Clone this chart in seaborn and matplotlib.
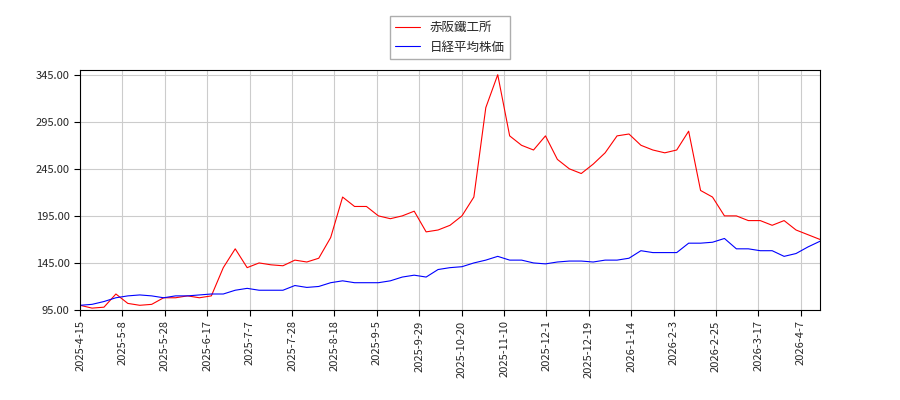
import matplotlib
matplotlib.use("Agg")
import matplotlib.pyplot as plt
import seaborn as sns
import numpy as np
import pandas as pd

tick_labels = ["2025-4-15","2025-5-8","2025-5-28","2025-6-17","2025-7-7","2025-7-28","2025-8-18",
               "2025-9-5","2025-9-29","2025-10-20","2025-11-10","2025-12-1","2025-12-19","2026-1-14",
               "2026-2-3","2026-2-25","2026-3-17","2026-4-7"]
akasaka = [100,97,98,112,102,100,101,108,108,110,108,110,140,160,140,145,143,142,148,146,150,172,
           215,205,205,195,192,195,200,178,180,185,195,215,310,345,280,270,265,280,255,245,240,250,
           262,280,282,270,265,262,265,285,222,215,195,195,190,190,185,190,180,175,170]
nikkei = [100,101,104,108,110,111,110,108,110,110,111,112,112,116,118,116,116,116,121,119,120,124,
          126,124,124,124,126,130,132,130,138,140,141,145,148,152,148,148,145,144,146,147,147,146,
          148,148,150,158,156,156,156,166,166,167,171,160,160,158,158,152,155,162,168]

step = 4
df = pd.DataFrame({"x": np.arange(len(akasaka)) * step, "赤阪鐵工所": akasaka, "日経平均株価": nikkei})
long = df.melt("x", var_name="series", value_name="v")

sns.set_style("white")
plt.rcParams['font.family'] = ['Noto Sans CJK JP', 'DejaVu Sans']
fig = plt.figure(figsize=(9, 4), dpi=100)
ax = fig.add_axes([0.089, 0.225, 0.822, 0.6])
sns.lineplot(data=long, x="x", y="v", hue="series", palette={"赤阪鐵工所": "red", "日経平均株価": "blue"},
             linewidth=0.8, ax=ax)
xmax = (len(akasaka) - 1) * step
ax.set_xlim(0, xmax)
ax.set_ylim(95, 350)
ax.set_yticks([95, 145, 195, 245, 295, 345])
ax.set_yticklabels([f"{v:.2f}" for v in [95, 145, 195, 245, 295, 345]], fontsize=8)
ax.set_xticks(np.arange(len(tick_labels)) * (xmax / 17.45))
ax.set_xticklabels(tick_labels, rotation=90, fontsize=8)
ax.grid(True, color="#cccccc", linewidth=0.8)
ax.set_xlabel(""); ax.set_ylabel("")
for s in ax.spines.values():
    s.set_color("black"); s.set_linewidth(0.8)
ax.tick_params(length=4, color="black", left=True, bottom=True)
ax.legend(loc="upper center", bbox_to_anchor=(0.5, 1.25), fontsize=9, frameon=True, fancybox=False, edgecolor="#999999")
fig.savefig("out.png")
